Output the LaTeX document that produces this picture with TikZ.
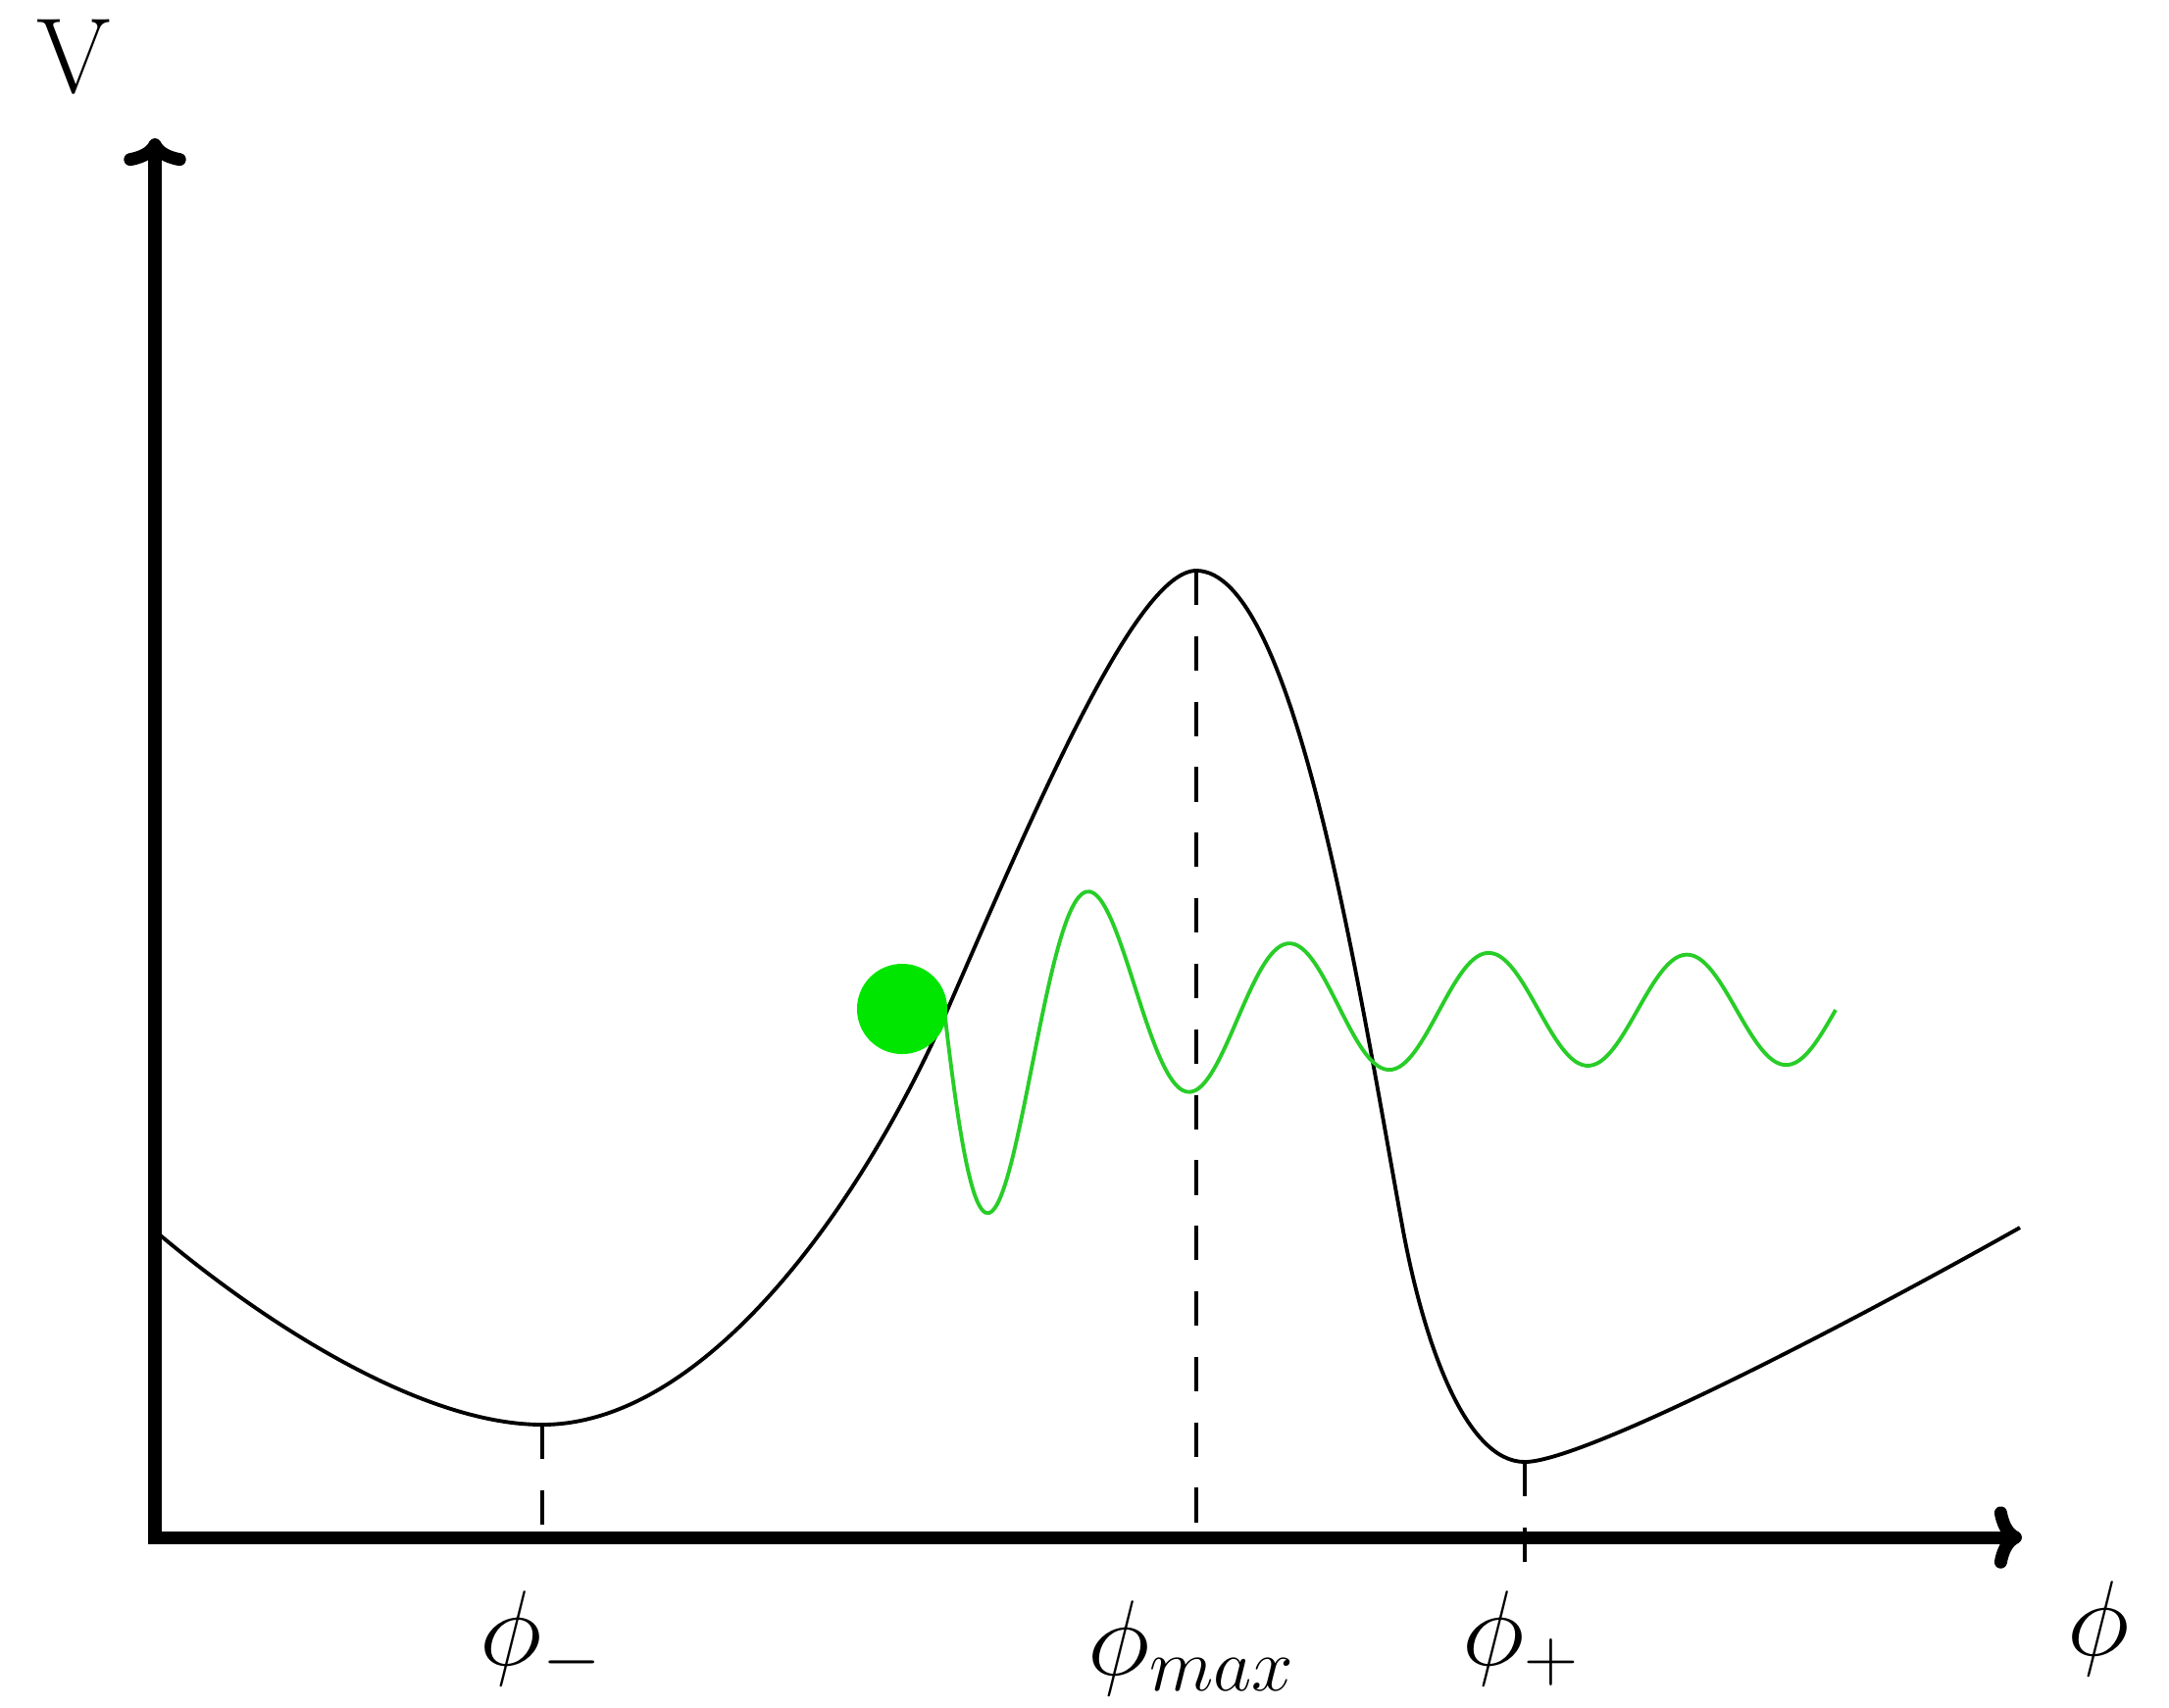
\RequirePackage{fix-cm}
\documentclass[tikz,border=0pt]{standalone}
\usetikzlibrary{arrows.meta}
\definecolor{ballgreen}{RGB}{0, 230, 0}
\definecolor{wavegreen}{RGB}{40, 205, 40}

\begin{document}
\begin{tikzpicture}[x=0.01cm, y=-0.01cm,
		axis/.style={line width=3.7pt, {To[length=8pt, width=18pt]}-{To[length=8pt, width=18pt]}},
		potential/.style={line width=1.1pt},
		guide/.style={line width=1.1pt, dash pattern=on 10pt off 9pt},
		wave/.style={wavegreen, line width=1.1pt},
		ball/.style={circle, fill=ballgreen, minimum size=0.92cm, inner sep=0pt},
		axislabel/.style={font=\fontsize{31}{37}\selectfont, inner sep=0pt}]
	\useasboundingbox (0,0) rectangle (2212,1741);
	% axes
	\coordinate (origin) at (158,1568);
	\coordinate (ytip) at (158,141);
	\coordinate (xtip) at (2062,1568);
	\draw[axis] (ytip) -- (origin) -- (xtip);
	\node[axislabel] (vlab) at (75,58) {V};
	\node[axislabel, anchor=base] (philab) at (2140,1688) {$\phi$};
	% extrema
	\coordinate (pminus) at (553,1453);
	\coordinate (fminus) at (553,1568);
	\coordinate (pmax) at (1220,582);
	\coordinate (fmax) at (1220,1568);
	\coordinate (pplus) at (1555,1491);
	\coordinate (fplus) at (1555,1593);
	% potential
	\draw[potential] (160,1257) .. controls (270,1350) and (430,1453) .. (pminus)
		.. controls (720,1453) and (880,1228) .. (967,1028)
		.. controls (1060,814) and (1160,582) .. (pmax)
		.. controls (1320,582) and (1385,1003) .. (1430,1250)
		.. controls (1452,1371) and (1495,1491) .. (pplus)
		.. controls (1610,1491) and (1850,1370) .. (2060,1252);
	\draw[guide] (pminus) -- (fminus);
	\draw[guide] (pmax) -- (fmax);
	\draw[guide] (pplus) -- (fplus);
	\node[axislabel, anchor=base] (lminus) at (552,1698) {$\phi_-$};
	\node[axislabel, anchor=base] (lmax) at (1215,1708) {$\phi_{max}$};
	\node[axislabel, anchor=base] (lplus) at (1551,1698) {$\phi_+$};
	% field
	\draw[wave] plot[domain=963:1872, samples=240, smooth]
		(\x, {1030 + (56 + 148*exp(-(\x-1013)/120))*sin((\x-963)/101*180)});
	\node[ball] (field) at (920,1029) {};
\end{tikzpicture}
\end{document}
